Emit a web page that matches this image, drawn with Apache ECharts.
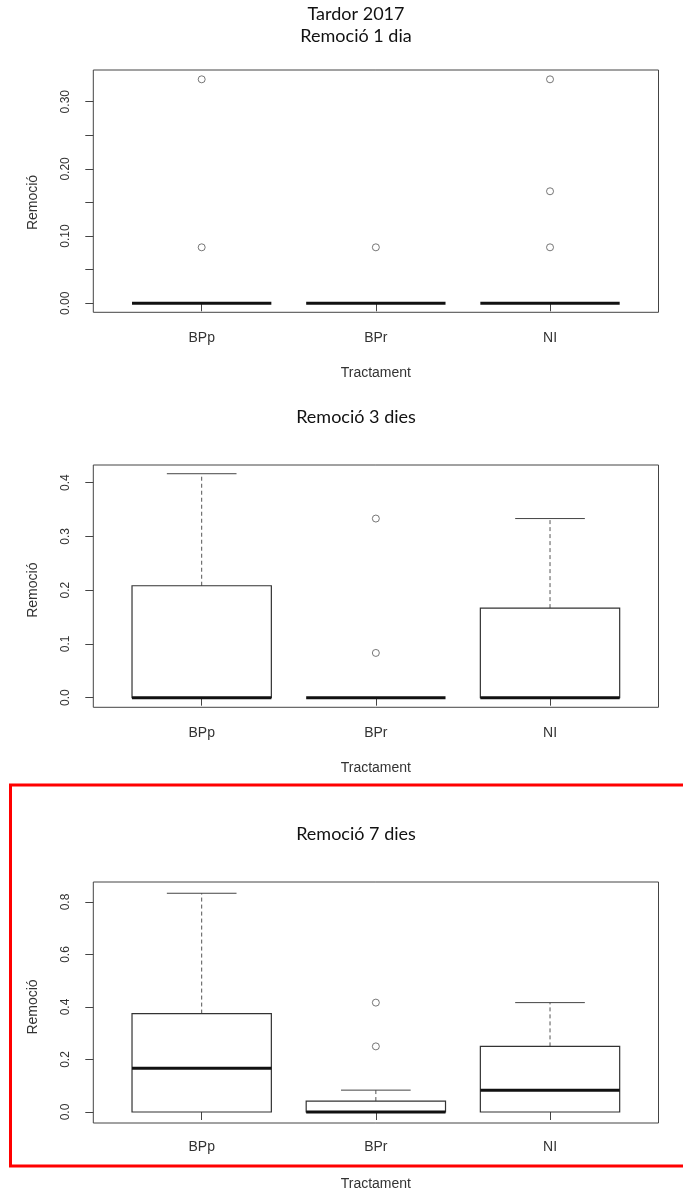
<!DOCTYPE html>
<html>
<head>
<meta charset="utf-8">
<script src="https://cdn.jsdelivr.net/npm/echarts@6/dist/echarts.min.js"></script>
<style>html,body{margin:0;padding:0;background:#fff}#c{width:683px;height:1192px}</style>
</head>
<body>
<div id="c"></div>
<script>
// ---- data ----
const categories = ['BPp', 'BPr', 'NI'];
const panelTitles = ['Remoció 1 dia', 'Remoció 3 dies', 'Remoció 7 dies'];
const mainTitle = 'Tardor 2017';
const xName = 'Tractament';
const yName = 'Remoció';
// boxes: [min, Q1, median, Q3, max] per category
const boxes1 = [[0, 0, 0, 0, 0], [0, 0, 0, 0, 0], [0, 0, 0, 0, 0]];
const outliers1 = [[0, 0.3333], [0, 0.0833], [1, 0.0833], [2, 0.3333], [2, 0.1667], [2, 0.0833]];
const boxes3 = [[0, 0, 0, 0.2083, 0.4167], [0, 0, 0, 0, 0], [0, 0, 0, 0.1667, 0.3333]];
const outliers3 = [[1, 0.3333], [1, 0.0833]];
const boxes7 = [[0, 0, 0.1667, 0.375, 0.8333], [0, 0, 0, 0.0417, 0.0833], [0, 0, 0.0833, 0.25, 0.4167]];
const outliers7 = [[1, 0.4167], [1, 0.25]];
// y-axis ticks
const yMax = [0.30, 0.4, 0.8];
const yStep = [0.05, 0.1, 0.2];
const yLabelStep = [0.10, 0.1, 0.2];
const yDigits = [2, 1, 1];

// ---- layout ----
const H = 1192;
const frameL = 93.3, frameR = 24.5;
const dataL = 114.6, dataR = 45.9;
const layout = [
  {ft: 70, fb: 312.3, dt: 101.7, db: 303.3, title: 36, nameGap: 54},
  {ft: 465, fb: 707.3, dt: 482.7, db: 697.7, title: 417, nameGap: 54},
  {ft: 882, fb: 1123, dt: 902, db: 1114, title: 834, nameGap: 56}
];
const allBoxes = [boxes1, boxes3, boxes7];
const allOut = [outliers1, outliers3, outliers7];

const grids = [], xAxes = [], yAxes = [], series = [];
const txt = '#333';
layout.forEach((L, p) => {
  grids.push({left: frameL, right: frameR, top: L.ft, bottom: H - L.fb, show: true,
    borderColor: '#444', borderWidth: 1, backgroundColor: 'transparent'});
  grids.push({left: dataL, right: dataR, top: L.dt, bottom: H - L.db});
  xAxes.push({type: 'value', gridIndex: 2 * p, show: false});
  yAxes.push({type: 'value', gridIndex: 2 * p, show: false});
  xAxes.push({
    type: 'category', gridIndex: 2 * p + 1, data: categories, offset: L.fb - L.db,
    axisLine: {show: false},
    axisTick: {show: true, alignWithLabel: true, length: 8, lineStyle: {color: '#444'}},
    axisLabel: {margin: 19, fontSize: 14, color: txt, fontFamily: 'Liberation Sans'},
    name: xName, nameLocation: 'middle', nameGap: L.nameGap,
    nameTextStyle: {fontSize: 14, color: txt, fontFamily: 'Liberation Sans'},
    splitLine: {show: false}
  });
  const step = yStep[p], ls = yLabelStep[p], dg = yDigits[p];
  yAxes.push({
    type: 'value', gridIndex: 2 * p + 1, min: 0, max: yMax[p], interval: step,
    offset: dataL - frameL,
    axisLine: {show: false},
    axisTick: {show: true, length: 8, lineStyle: {color: '#444'}},
    splitLine: {show: false},
    axisLabel: {
      rotate: 90, margin: 22, fontSize: 12, color: txt, fontFamily: 'Liberation Sans',
      formatter: v => (Math.abs(v / ls - Math.round(v / ls)) < 1e-6) ? v.toFixed(dg) : ''
    },
    name: yName, nameLocation: 'middle', nameGap: 53, nameRotate: 90,
    nameTextStyle: {fontSize: 14, color: txt, fontFamily: 'Liberation Sans'}
  });
  series.push({
    type: 'custom', xAxisIndex: 2 * p + 1, yAxisIndex: 2 * p + 1,
    data: allBoxes[p].map((b, i) => [i].concat(b)),
    encode: {x: 0, y: [1, 2, 3, 4, 5]},
    renderItem: (params, api) => {
      const i = api.value(0);
      const mn = api.value(1), q1 = api.value(2), md = api.value(3), q3 = api.value(4), mx = api.value(5);
      const band = api.size([1, 0])[0];
      const cx = api.coord([i, md])[0];
      const bw = band * 0.8, cw = band * 0.4;
      const y = v => api.coord([i, v])[1];
      const ch = [];
      const dash = {stroke: '#555', lineWidth: 1, lineDash: [4, 3]};
      const solid = {stroke: '#444', lineWidth: 1};
      if (mx > q3) {
        ch.push({type: 'line', shape: {x1: cx, y1: y(q3), x2: cx, y2: y(mx)}, style: dash});
        ch.push({type: 'line', shape: {x1: cx - cw / 2, y1: y(mx), x2: cx + cw / 2, y2: y(mx)}, style: solid});
      }
      if (mn < q1) {
        ch.push({type: 'line', shape: {x1: cx, y1: y(q1), x2: cx, y2: y(mn)}, style: dash});
        ch.push({type: 'line', shape: {x1: cx - cw / 2, y1: y(mn), x2: cx + cw / 2, y2: y(mn)}, style: solid});
      }
      if (q3 > q1) {
        ch.push({type: 'rect', shape: {x: cx - bw / 2, y: y(q3), width: bw, height: y(q1) - y(q3)},
          style: {fill: 'none', stroke: '#333', lineWidth: 1.2}});
      }
      ch.push({type: 'line', shape: {x1: cx - bw / 2, y1: y(md), x2: cx + bw / 2, y2: y(md)},
        style: {stroke: '#111', lineWidth: 3}});
      return {type: 'group', children: ch};
    }
  });
  series.push({
    type: 'scatter', xAxisIndex: 2 * p + 1, yAxisIndex: 2 * p + 1, clip: false,
    data: allOut[p], symbol: 'circle', symbolSize: 7,
    itemStyle: {color: '#fff', borderColor: '#555', borderWidth: 1}
  });
});

const titleFont = '18px Lato';
const titleX = 356;
const graphic = [
  {type: 'text', x: titleX, y: 14, style: {text: mainTitle, font: titleFont, fill: '#111', align: 'center', verticalAlign: 'middle'}}
].concat(layout.map((L, p) => ({type: 'text', x: titleX, y: L.title,
  style: {text: panelTitles[p], font: titleFont, fill: '#111', align: 'center', verticalAlign: 'middle'}})));
graphic.push({type: 'rect', z: 100, shape: {x: 10.5, y: 785, width: 690, height: 381},
  style: {fill: 'none', stroke: '#ff0000', lineWidth: 3}});

const chart = echarts.init(document.getElementById('c'), null, {renderer: 'canvas'});
chart.setOption({
  animation: false,
  backgroundColor: '#fff',
  grid: grids, xAxis: xAxes, yAxis: yAxes, series: series, graphic: graphic
});
</script>
</body>
</html>
